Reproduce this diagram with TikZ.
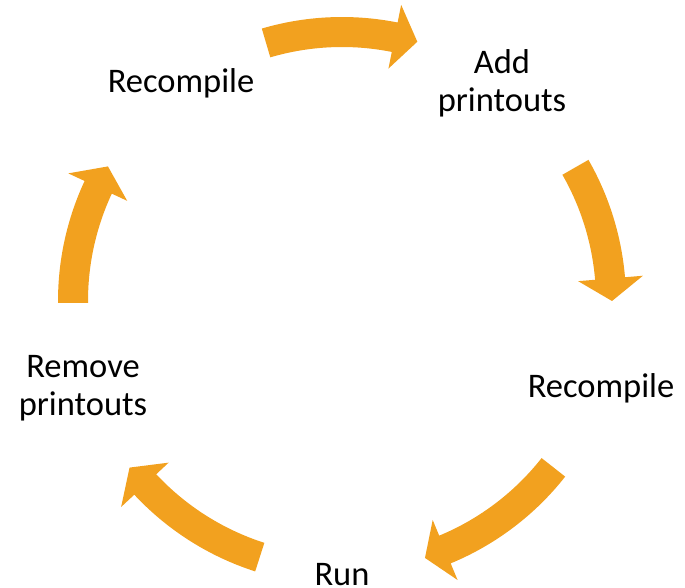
\documentclass[tikz,border=0pt]{standalone}
\usepackage{fontspec}
\setmainfont{Carlito}
\definecolor{cycleorange}{HTML}{F2A11F}
% curved block arrow on the ring around (C): tail angle, head-base angle, tip angle
\newcommand\ringarrow[3]{%
  \fill[ringfill]
    ([shift={(#1:284pt)}]C) arc[start angle=#1, end angle=#2, radius=284pt]
    -- ([shift={(#2:302pt)}]C)
    -- ([shift={(#3:270pt)}]C)
    -- ([shift={(#2:237pt)}]C)
    -- ([shift={(#2:254pt)}]C) arc[start angle=#2, end angle=#1, radius=254pt]
    -- cycle;}
\begin{document}
\begin{tikzpicture}[x=1pt,y=1pt,
  lbl/.style={font=\fontsize{34.5}{38}\selectfont, align=center, inner sep=0pt, text=black},
  ringfill/.style={fill=cycleorange, draw=none}]
\useasboundingbox (0,0) rectangle (685,587);
\coordinate (C) at (342,286);

% step labels
\node[lbl] (add)    at (502,504) {Add\\printouts};
\node[lbl] (recR)   at (601,199) {Recompile};
\node[lbl, anchor=base] (run) at (342,2) {Run};
\node[lbl] (remove) at (83,199)  {Remove\\printouts};
\node[lbl] (recL)   at (181,504) {Recompile};

% arrows between the steps, clockwise
\ringarrow{106.4}{78.7}{73.8}
\ringarrow{29.8}{4.8}{0}
\ringarrow{-38.2}{-67.5}{-72.1}
\ringarrow{-107.8}{-137}{-141.9}
\ringarrow{180.4}{155}{150.1}
\end{tikzpicture}
\end{document}
